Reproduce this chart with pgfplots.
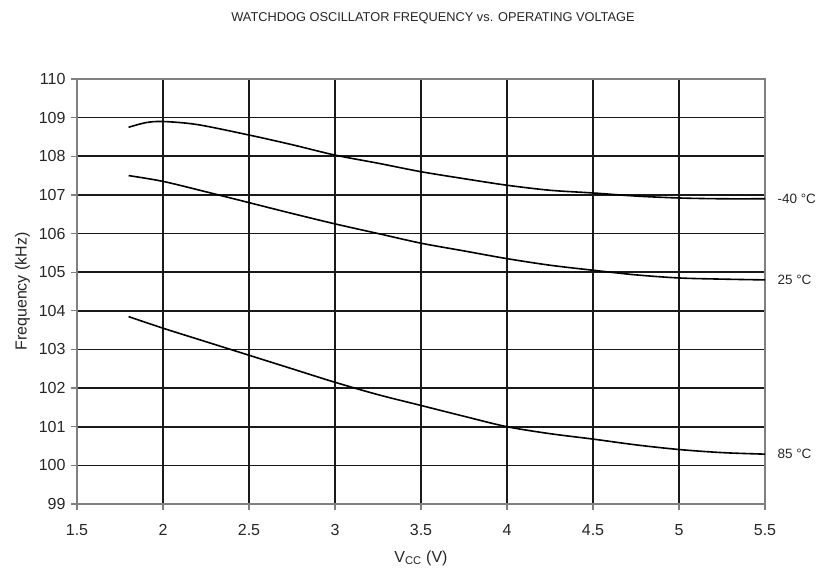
\documentclass[border=0pt]{standalone}
\usepackage{pgfplots}
\pgfplotsset{compat=1.18}
\usepackage{fontspec}
\setmainfont{Liberation Sans}
\begin{document}
\begin{tikzpicture}[x=1pt,y=1pt]
\path[use as bounding box] (0,0) rectangle (817,569);
\node[font=\fontsize{12.8}{15}\selectfont, text=black!85] at (433,551) {WATCHDOG OSCILLATOR FREQUENCY vs. OPERATING VOLTAGE};
\begin{axis}[at={(77pt,65pt)}, anchor=south west, scale only axis,
  width=688pt, height=425pt,
  xmin=1.5, xmax=5.5, ymin=99, ymax=110,
  xtick={1.5,2,2.5,3,3.5,4,4.5,5,5.5},
  ytick={99,100,...,110},
  grid=major, major grid style={black!90, line width=1.6pt},
  axis line style={gray, line width=1.3pt},
  tick style={gray, line width=1.3pt},
  tick align=outside, tick pos=left, major tick length=6pt,
  ticklabel style={font=\fontsize{16}{18}\selectfont, text=black!85},
  xticklabel style={yshift=-11pt},
  yticklabel style={xshift=-2pt},
  /pgf/number format/assume math mode=true,
  xlabel={V\textsubscript{CC} (V)}, ylabel={Frequency (kHz)},
  label style={font=\fontsize{16}{18}\selectfont, text=black!85},
  xlabel style={yshift=-8pt},
  ylabel style={yshift=2pt},
  clip=false]
\addplot[black, line width=1.6pt, smooth] coordinates {
(1.8,108.75) (1.9,108.87) (2.0,108.9) (2.2,108.82) (2.5,108.55) (2.75,108.3) (3.0,108.03) (3.25,107.82) (3.5,107.6) (3.75,107.42) (4.0,107.25) (4.25,107.12) (4.5,107.05) (4.75,106.97) (5.0,106.92) (5.25,106.9) (5.5,106.9)};
\addplot[black, line width=1.6pt, smooth] coordinates {
(1.8,107.5) (2.0,107.35) (2.25,107.08) (2.5,106.8) (2.75,106.52) (3.0,106.25) (3.25,106.0) (3.5,105.75) (3.75,105.55) (4.0,105.35) (4.25,105.18) (4.5,105.05) (4.75,104.93) (5.0,104.85) (5.25,104.82) (5.5,104.8)};
\addplot[black, line width=1.6pt, smooth] coordinates {
(1.8,103.85) (2.0,103.55) (2.25,103.2) (2.5,102.85) (2.75,102.5) (3.0,102.15) (3.25,101.83) (3.5,101.55) (3.75,101.27) (4.0,101.0) (4.25,100.82) (4.5,100.68) (4.75,100.53) (5.0,100.41) (5.25,100.33) (5.5,100.29)};
\node[anchor=west, font=\fontsize{13.5}{15}\selectfont, text=black!85] at (axis cs:5.5,106.9) [xshift=9pt] {-40 °C};
\node[anchor=west, font=\fontsize{13.5}{15}\selectfont, text=black!85] at (axis cs:5.5,104.8) [xshift=9pt] {25 °C};
\node[anchor=west, font=\fontsize{13.5}{15}\selectfont, text=black!85] at (axis cs:5.5,100.29) [xshift=9pt] {85 °C};
\end{axis}
\end{tikzpicture}
\end{document}
